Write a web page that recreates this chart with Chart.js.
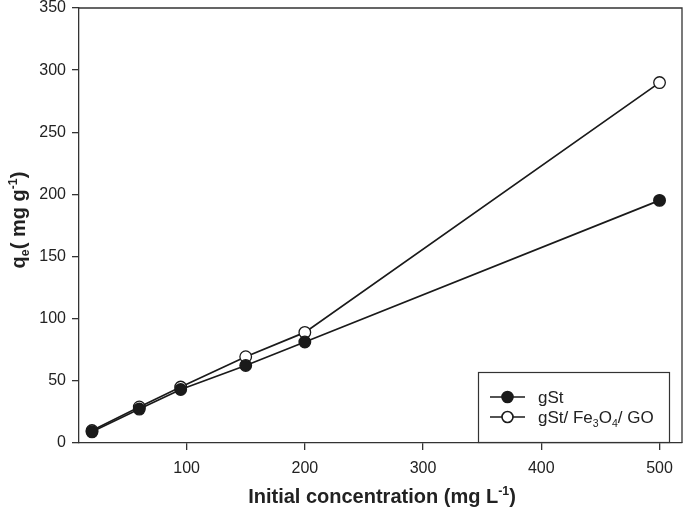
<!DOCTYPE html>
<html>
<head>
<meta charset="utf-8">
<script src="https://cdn.jsdelivr.net/npm/chart.js@4/dist/chart.umd.min.js"></script>
<style>
html,body{margin:0;padding:0;background:#fff;}
#wrap{width:685px;height:513px;}
</style>
</head>
<body>
<div id="wrap"><canvas id="c" width="685" height="513"></canvas></div>
<script>
const concentrations = [20, 60, 95, 150, 200, 500];
const gSt = [9, 27.3, 43, 62.4, 81.3, 195.2];
const gStFeGO = [10, 29, 45, 69.4, 89, 290];
const xTicks = [100, 200, 300, 400, 500];
const yTicks = [0, 50, 100, 150, 200, 250, 300, 350];
const seriesNames = ['gSt', 'gSt/ Fe3O4/ GO'];

const FONT = '"Liberation Sans", Arial, sans-serif';
const INK = '#1a1a1a';
const PLOT_RIGHT = 682;

function richWidth(ctx, parts, size, bold) {
  let w = 0;
  for (const p of parts) {
    const s = p.s ? size * 0.62 : size;
    ctx.font = (bold ? 'bold ' : '') + s + 'px ' + FONT;
    w += ctx.measureText(p.t).width;
  }
  return w;
}
function drawRich(ctx, parts, x, y, size, bold, align) {
  const w = richWidth(ctx, parts, size, bold);
  let cx = align === 'center' ? x - w / 2 : x;
  ctx.textBaseline = 'alphabetic';
  ctx.textAlign = 'left';
  for (const p of parts) {
    const s = p.s ? size * 0.62 : size;
    ctx.font = (bold ? 'bold ' : '') + s + 'px ' + FONT;
    let dy = 0;
    if (p.s === 'sub') dy = size * 0.22;
    if (p.s === 'sup') dy = -size * 0.42;
    ctx.fillText(p.t, cx, y + dy);
    cx += ctx.measureText(p.t).width;
  }
}

const framePlugin = {
  id: 'frame',
  afterLayout(chart) {
    const a = chart.chartArea;
    a.right = PLOT_RIGHT;
    a.width = a.right - a.left;
    const x = chart.scales.x;
    x.right = PLOT_RIGHT;
    x.width = x.right - x.left;
    x.configure();
  },
  afterDraw(chart) {
    const ctx = chart.ctx;
    const a = chart.chartArea;
    ctx.save();
    ctx.strokeStyle = '#333';
    ctx.lineWidth = 1.3;
    ctx.beginPath();
    ctx.moveTo(a.left, a.top);
    ctx.lineTo(a.right, a.top);
    ctx.lineTo(a.right, a.bottom);
    ctx.stroke();

    // axis titles
    ctx.fillStyle = '#222';
    drawRich(ctx, [{t:'Initial concentration (mg L'},{t:'-1',s:'sup'},{t:')'}], 382, 503, 20, true, 'center');
    ctx.save();
    ctx.translate(25, 220);
    ctx.rotate(-Math.PI / 2);
    drawRich(ctx, [{t:'q'},{t:'e',s:'sub'},{t:'( mg g'},{t:'-1',s:'sup'},{t:')'}], 0, 0, 20, true, 'center');
    ctx.restore();

    // legend
    const lx = 478, ly = 372, lw = 191, lh = 70;
    ctx.fillStyle = '#fff';
    ctx.fillRect(lx, ly, lw, lh);
    ctx.strokeStyle = '#333';
    ctx.lineWidth = 1.2;
    ctx.strokeRect(lx + 0.5, ly + 0.5, lw, lh);
    const rows = [
      {y: 397, fill: INK, parts: [{t: seriesNames[0]}]},
      {y: 417, fill: '#fff', parts: [{t:'gSt/ Fe'},{t:'3',s:'sub'},{t:'O'},{t:'4',s:'sub'},{t:'/ GO'}]}
    ];
    for (const r of rows) {
      ctx.strokeStyle = INK;
      ctx.lineWidth = 1.6;
      ctx.beginPath();
      ctx.moveTo(490, r.y);
      ctx.lineTo(525, r.y);
      ctx.stroke();
      ctx.beginPath();
      ctx.arc(507.5, r.y, 5.5, 0, Math.PI * 2);
      ctx.fillStyle = r.fill;
      ctx.fill();
      ctx.stroke();
      ctx.fillStyle = '#222';
      drawRich(ctx, r.parts, 538, r.y + 6, 17, false, 'left');
    }
    ctx.restore();
  }
};

new Chart(document.getElementById('c'), {
  type: 'scatter',
  data: {
    datasets: [
      {
        label: seriesNames[0],
        data: concentrations.map((x, i) => ({x, y: gSt[i]})),
        showLine: true,
        borderColor: INK,
        borderWidth: 1.7,
        pointRadius: 5.8,
        pointBackgroundColor: INK,
        pointBorderColor: INK,
        pointBorderWidth: 1.3
      },
      {
        label: seriesNames[1],
        data: concentrations.map((x, i) => ({x, y: gStFeGO[i]})),
        showLine: true,
        borderColor: INK,
        borderWidth: 1.7,
        pointRadius: 5.8,
        pointBackgroundColor: '#fff',
        pointBorderColor: INK,
        pointBorderWidth: 1.3
      }
    ]
  },
  options: {
    responsive: false,
    animation: false,
    devicePixelRatio: 1,
    layout: {padding: {top: 8, right: 3, left: 0, bottom: 0}},
    plugins: {legend: {display: false}, tooltip: {enabled: false}},
    scales: {
      x: {
        type: 'linear',
        min: 9, max: 519,
        afterBuildTicks: s => { s.ticks = xTicks.map(v => ({value: v})); },
        afterFit: s => { s.height = 70; s.paddingLeft = 0; s.paddingRight = 0; },
        grid: {drawOnChartArea: false, tickLength: 7, color: '#333', lineWidth: 1.3},
        border: {color: '#333', width: 1.3},
        ticks: {color: '#222', font: {family: FONT, size: 16}, padding: 9, maxRotation: 0}
      },
      y: {
        min: 0, max: 350,
        afterBuildTicks: s => { s.ticks = yTicks.map(v => ({value: v})); },
        afterFit: s => { s.width = 79; s.paddingTop = 0; s.paddingBottom = 0; },
        grid: {drawOnChartArea: false, tickLength: 7, color: '#333', lineWidth: 1.3},
        border: {color: '#333', width: 1.3},
        ticks: {color: '#222', font: {family: FONT, size: 16}, padding: 6}
      }
    }
  },
  plugins: [framePlugin]
});
</script>
</body>
</html>
